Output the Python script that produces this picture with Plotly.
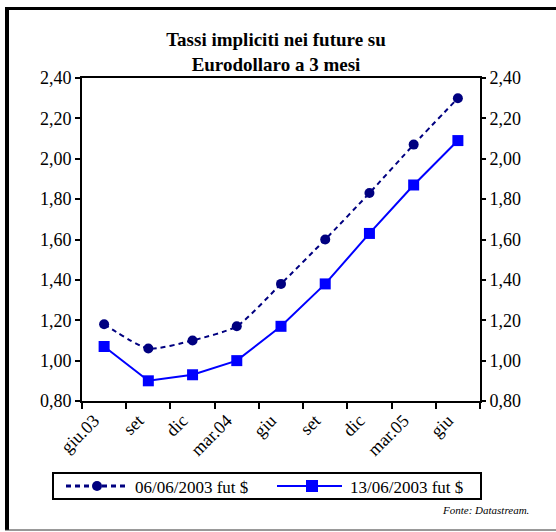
import plotly.graph_objects as go

categories = ["giu.03", "set", "dic", "mar.04", "giu", "set", "dic", "mar.05", "giu"]
s1_name = "06/06/2003 fut $"
s1_values = [1.18, 1.06, 1.10, 1.17, 1.38, 1.60, 1.83, 2.07, 2.30]
s2_name = "13/06/2003 fut $"
s2_values = [1.07, 0.90, 0.93, 1.00, 1.17, 1.38, 1.63, 1.87, 2.09]
y_ticks = [0.8, 1.0, 1.2, 1.4, 1.6, 1.8, 2.0, 2.2, 2.4]

W, H = 556, 532
L, R, T, B = 82, 480, 78, 401

def px(x):
    return (x - L) / (R - L)

def py(y):
    return (B - y) / (B - T)

xs = list(range(len(categories)))
FONT = "Liberation Serif"
C1, C2 = "#000080", "#0000FF"
DASH1 = "5px,4px"

fig = go.Figure()
fig.add_trace(go.Scatter(
    x=xs, y=s1_values, name=s1_name, mode="lines+markers",
    line=dict(color=C1, width=2, dash=DASH1, shape="spline", smoothing=0.6),
    marker=dict(symbol="circle", size=10, color=C1),
))
fig.add_trace(go.Scatter(
    x=xs, y=s2_values, name=s2_name, mode="lines+markers",
    line=dict(color=C2, width=2),
    marker=dict(symbol="square", size=11, color=C2),
))
fig.add_trace(go.Scatter(x=[xs[0]], y=[s1_values[0]], yaxis="y2", showlegend=False,
                         mode="markers", marker=dict(opacity=0), hoverinfo="skip"))

tick_text = [f"{v:.2f}".replace(".", ",") for v in y_ticks]
TF = dict(size=18, family=FONT, color="black")

fig.update_layout(
    width=W, height=H,
    margin=dict(l=L, r=W - R, t=T, b=H - B, autoexpand=False),
    paper_bgcolor="white", plot_bgcolor="white",
    font=dict(family=FONT, size=15, color="black"),
    showlegend=False,
    title=dict(text="<b>Tassi impliciti nei future su<br>Eurodollaro a 3 mesi</b>",
               x=px(276), xanchor="center", xref="paper", y=1 - 46 / H, yanchor="top",
               font=dict(size=19, family=FONT, color="black")),
    xaxis=dict(range=[-0.5, len(categories) - 0.5], tickmode="array", tickvals=xs,
               ticktext=categories, tickangle=-45, ticks="", showgrid=False, zeroline=False,
               showline=True, linecolor="black", linewidth=2, mirror=True, automargin=False,
               ticklabelshift=-10,
               minor=dict(ticks="outside", tick0=-0.5, dtick=1, ticklen=6, tickcolor="black",
                          tickwidth=2, showgrid=False),
               tickfont=TF),
    yaxis=dict(range=[0.8, 2.4], tickmode="array", tickvals=y_ticks, ticktext=tick_text,
               ticks="outside", ticklen=5, tickwidth=2, tickcolor="black", showgrid=False,
               zeroline=False, showline=True, linecolor="black", linewidth=2, mirror=True,
               automargin=False, tickfont=TF),
    yaxis2=dict(range=[0.8, 2.4], tickmode="array", tickvals=y_ticks, ticktext=tick_text,
                overlaying="y", side="right", ticks="outside", ticklen=5, tickwidth=2,
                tickcolor="black", showgrid=False, zeroline=False, showline=False,
                automargin=False, tickfont=TF),
)

# manual legend (box, symbols, labels)
LY = 486
fig.add_shape(type="rect", xref="paper", yref="paper", x0=px(53), x1=px(481), y0=py(473), y1=py(499),
              line=dict(color="black", width=2), fillcolor="white", layer="above")
fig.add_shape(type="line", xref="paper", yref="paper", x0=px(66), x1=px(127), y0=py(LY), y1=py(LY),
              line=dict(color=C1, width=3, dash=DASH1))
fig.add_shape(type="circle", xref="paper", yref="paper", x0=px(92), x1=px(102), y0=py(LY - 5), y1=py(LY + 5),
              line=dict(color=C1, width=0), fillcolor=C1)
fig.add_annotation(text=s1_name, xref="paper", yref="paper", x=px(133), y=py(LY + 1),
                   xanchor="left", yanchor="middle", showarrow=False,
                   font=dict(size=17, family=FONT, color="black"))
fig.add_shape(type="line", xref="paper", yref="paper", x0=px(277), x1=px(342), y0=py(LY), y1=py(LY),
              line=dict(color=C2, width=2))
fig.add_shape(type="rect", xref="paper", yref="paper", x0=px(306), x1=px(318), y0=py(LY - 6), y1=py(LY + 6),
              line=dict(color=C2, width=0), fillcolor=C2)
fig.add_annotation(text=s2_name, xref="paper", yref="paper", x=px(348), y=py(LY + 1),
                   xanchor="left", yanchor="middle", showarrow=False,
                   font=dict(size=17, family=FONT, color="black"))

fig.add_annotation(text="<i>Fonte: Datastream.</i>", xref="paper", yref="paper",
                   x=px(531), y=py(510), xanchor="right", yanchor="middle", showarrow=False,
                   font=dict(size=11, family=FONT, color="black"))

# outer frame
fig.add_shape(type="line", xref="paper", yref="paper", x0=px(5), x1=px(556), y0=py(8.5), y1=py(8.5),
              line=dict(color="black", width=3))
fig.add_shape(type="line", xref="paper", yref="paper", x0=px(7), x1=px(7), y0=py(7), y1=py(530),
              line=dict(color="black", width=4))
fig.add_shape(type="line", xref="paper", yref="paper", x0=px(5), x1=px(556), y0=py(530), y1=py(530),
              line=dict(color="#333333", width=1))

fig.write_html("out.html", config={"displayModeBar": False},
               post_script="document.body.style.margin='0';document.body.style.overflow='hidden';")
